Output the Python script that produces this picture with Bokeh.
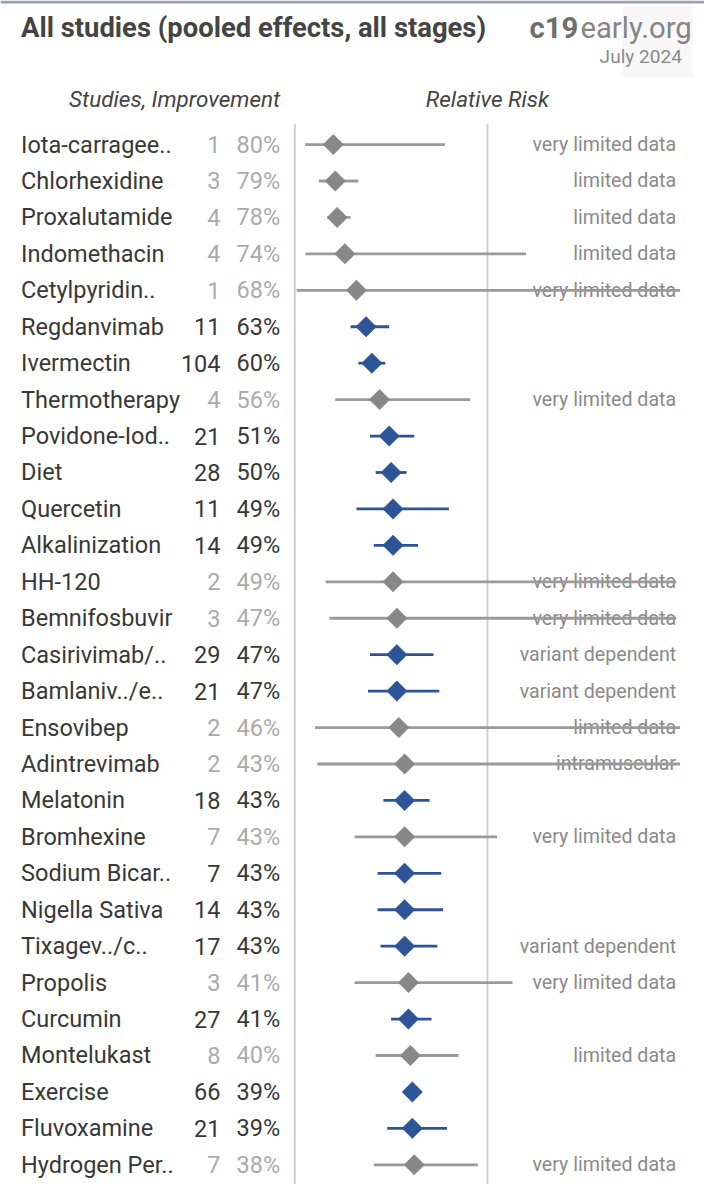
from bokeh.plotting import figure
from bokeh.models import Range1d, ColumnDataSource
from bokeh.core.properties import value
from bokeh.embed import file_html
from bokeh.resources import INLINE
import numpy as np

names = ["Iota-carragee..", "Chlorhexidine", "Proxalutamide", "Indomethacin", "Cetylpyridin..",
         "Regdanvimab", "Ivermectin", "Thermotherapy", "Povidone-Iod..", "Diet",
         "Quercetin", "Alkalinization", "HH-120", "Bemnifosbuvir", "Casirivimab/..",
         "Bamlaniv../e..", "Ensovibep", "Adintrevimab", "Melatonin", "Bromhexine",
         "Sodium Bicar..", "Nigella Sativa", "Tixagev../c..", "Propolis", "Curcumin",
         "Montelukast", "Exercise", "Fluvoxamine", "Hydrogen Per.."]
studies = [1, 3, 4, 4, 1, 11, 104, 4, 21, 28, 11, 14, 2, 3, 29, 21, 2, 2, 18, 7,
           7, 14, 17, 3, 27, 8, 66, 21, 7]
improvement = [80, 79, 78, 74, 68, 63, 60, 56, 51, 50, 49, 49, 49, 47, 47, 47, 46, 43, 43, 43,
               43, 43, 43, 41, 41, 40, 39, 39, 38]
rr = [0.20, 0.21, 0.22, 0.26, 0.32, 0.37, 0.40, 0.44, 0.49, 0.50, 0.51, 0.51, 0.51, 0.53, 0.53,
      0.53, 0.54, 0.57, 0.57, 0.57, 0.57, 0.57, 0.57, 0.59, 0.59, 0.60, 0.61, 0.61, 0.62]
rr_low = [0.054, 0.125, 0.17, 0.056, 0.01, 0.29, 0.33, 0.21, 0.39, 0.42, 0.32, 0.41, 0.16, 0.18, 0.39,
          0.38, 0.105, 0.117, 0.46, 0.31, 0.43, 0.43, 0.445, 0.31, 0.50, 0.42, 0.58, 0.48, 0.41]
rr_high = [0.78, 0.33, 0.29, 1.20, 2.3, 0.49, 0.47, 0.91, 0.62, 0.58, 0.80, 0.64, 1.98, 1.98, 0.72,
           0.75, 2.5, 2.5, 0.70, 1.05, 0.76, 0.77, 0.74, 1.13, 0.71, 0.85, 0.64, 0.79, 0.95]
limited = [1, 1, 1, 1, 1, 0, 0, 1, 0, 0, 0, 0, 1, 1, 0, 0, 1, 1, 0, 1, 0, 0, 0, 1, 0, 1, 0, 0, 1]
notes = ["very limited data", "limited data", "limited data", "limited data", "very limited data",
         "", "", "very limited data", "", "", "", "", "very limited data", "very limited data",
         "variant dependent", "variant dependent", "limited data", "intramuscular", "",
         "very limited data", "", "", "variant dependent", "very limited data", "", "limited data",
         "", "", "very limited data"]

RR_MAX_SHOWN = 2.0
FONT = value("Roboto")

W, H = 704, 1184          # canvas size in screen px
RW, RH = 720.0, 1200.0    # layout design space
F = W / RW                # font scale


def fs(px):
    return value(f"{px * F:.1f}px")


X0, SX = 301.0, 197.0     # RR=0 position and px per RR unit (design space)
Y0, SY = 146.0, 36.93     # first row centre and row pitch (design space)

p = figure(width=W, height=H, output_backend="svg", toolbar_location=None,
           x_range=Range1d(0, RW), y_range=Range1d(RH, 0),
           x_axis_location=None, y_axis_location=None, min_border=0,
           outline_line_color=None, background_fill_color="white")
p.grid.visible = False
p.extra_x_ranges = {"rr": Range1d((0 - X0) / SX, (RW - X0) / SX)}
p.extra_y_ranges = {"row": Range1d((RH - Y0) / SY, (0 - Y0) / SY)}

n = len(names)
idx = list(range(n))
BLUE = "#2d5496"
dark = "#383838"
lightnum = "#ababab"
src = ColumnDataSource(dict(
    y=idx, name=names,
    cnt=[str(s) for s in studies],
    pct=[f"{v}%" for v in improvement],
    note=notes,
    rr=rr,
    lo=rr_low,
    hi=list(np.minimum(np.array(rr_high), RR_MAX_SHOWN)),
    numcol=[lightnum if l else dark for l in limited],
    mcol=["#888888" if l else BLUE for l in limited],
    lcol=["#9a9a9a" if l else BLUE for l in limited],
))

# top border and faint logo backdrop
p.segment(x0=[0], x1=[RW], y0=[1.5], y1=[1.5], line_color="#9aa3ad", line_width=3)
p.quad(left=[636], right=[708], top=[6], bottom=[78], fill_color="#f1f1f1",
       fill_alpha=0.6, line_color=None)

# reference lines at RR = 0 and RR = 1
p.segment(x0=[0, 1], x1=[0, 1], y0=[125, 125], y1=[RH, RH], x_range_name="rr",
          line_color="#d0d0d0", line_width=2)

# header texts
p.text(x=[21], y=[28], text=["All studies (pooled effects, all stages)"], text_font=FONT,
       text_font_size=fs(28), text_font_style="bold", text_color="#444444",
       text_baseline="middle", text_align="left")
p.text(x=[707], y=[28], text=["early.org"], text_font=FONT, text_font_size=fs(30),
       text_color="#858585", text_baseline="middle", text_align="right")
p.text(x=[591], y=[28], text=["c19"], text_font=FONT, text_font_size=fs(30),
       text_font_style="bold", text_color="#6e6e6e", text_baseline="middle", text_align="right")
p.text(x=[697], y=[57], text=["July 2024"], text_font=FONT, text_font_size=fs(19.5),
       text_color="#8a8a8a", text_baseline="middle", text_align="right")
p.text(x=[286], y=[100], text=["Studies, Improvement"], text_font=FONT,
       text_font_size=fs(23), text_font_style="italic", text_color="#444444",
       text_baseline="middle", text_align="right")
p.text(x=[498], y=[100], text=["Relative Risk"], text_font=FONT,
       text_font_size=fs(23), text_font_style="italic", text_color="#444444",
       text_baseline="middle", text_align="center")

# row texts
p.text(x=21, y="y", text="name", source=src, y_range_name="row", text_font=FONT,
       text_font_size=fs(24), text_color=dark, text_baseline="middle", text_align="left")
p.text(x=225, y="y", text="cnt", source=src, y_range_name="row", text_font=FONT,
       text_font_size=fs(24), text_color="numcol", text_baseline="middle", text_align="right")
p.text(x=286, y="y", text="pct", source=src, y_range_name="row", text_font=FONT,
       text_font_size=fs(24), text_color="numcol", text_baseline="middle", text_align="right")
p.text(x=691, y="y", text="note", source=src, y_range_name="row", text_font=FONT,
       text_font_size=fs(20), text_color="#8a8a8a", text_baseline="middle", text_align="right")

# confidence intervals and point estimates
p.segment(x0="lo", x1="hi", y0="y", y1="y", source=src, x_range_name="rr", y_range_name="row",
          line_color="lcol", line_width=2.8)
p.scatter(x="rr", y="y", source=src, x_range_name="rr", y_range_name="row", marker="square",
          size=14.5, angle=np.pi / 4, fill_color="mcol", line_color="mcol", line_width=0.5)

open("out.html", "w").write(file_html(p, INLINE))
